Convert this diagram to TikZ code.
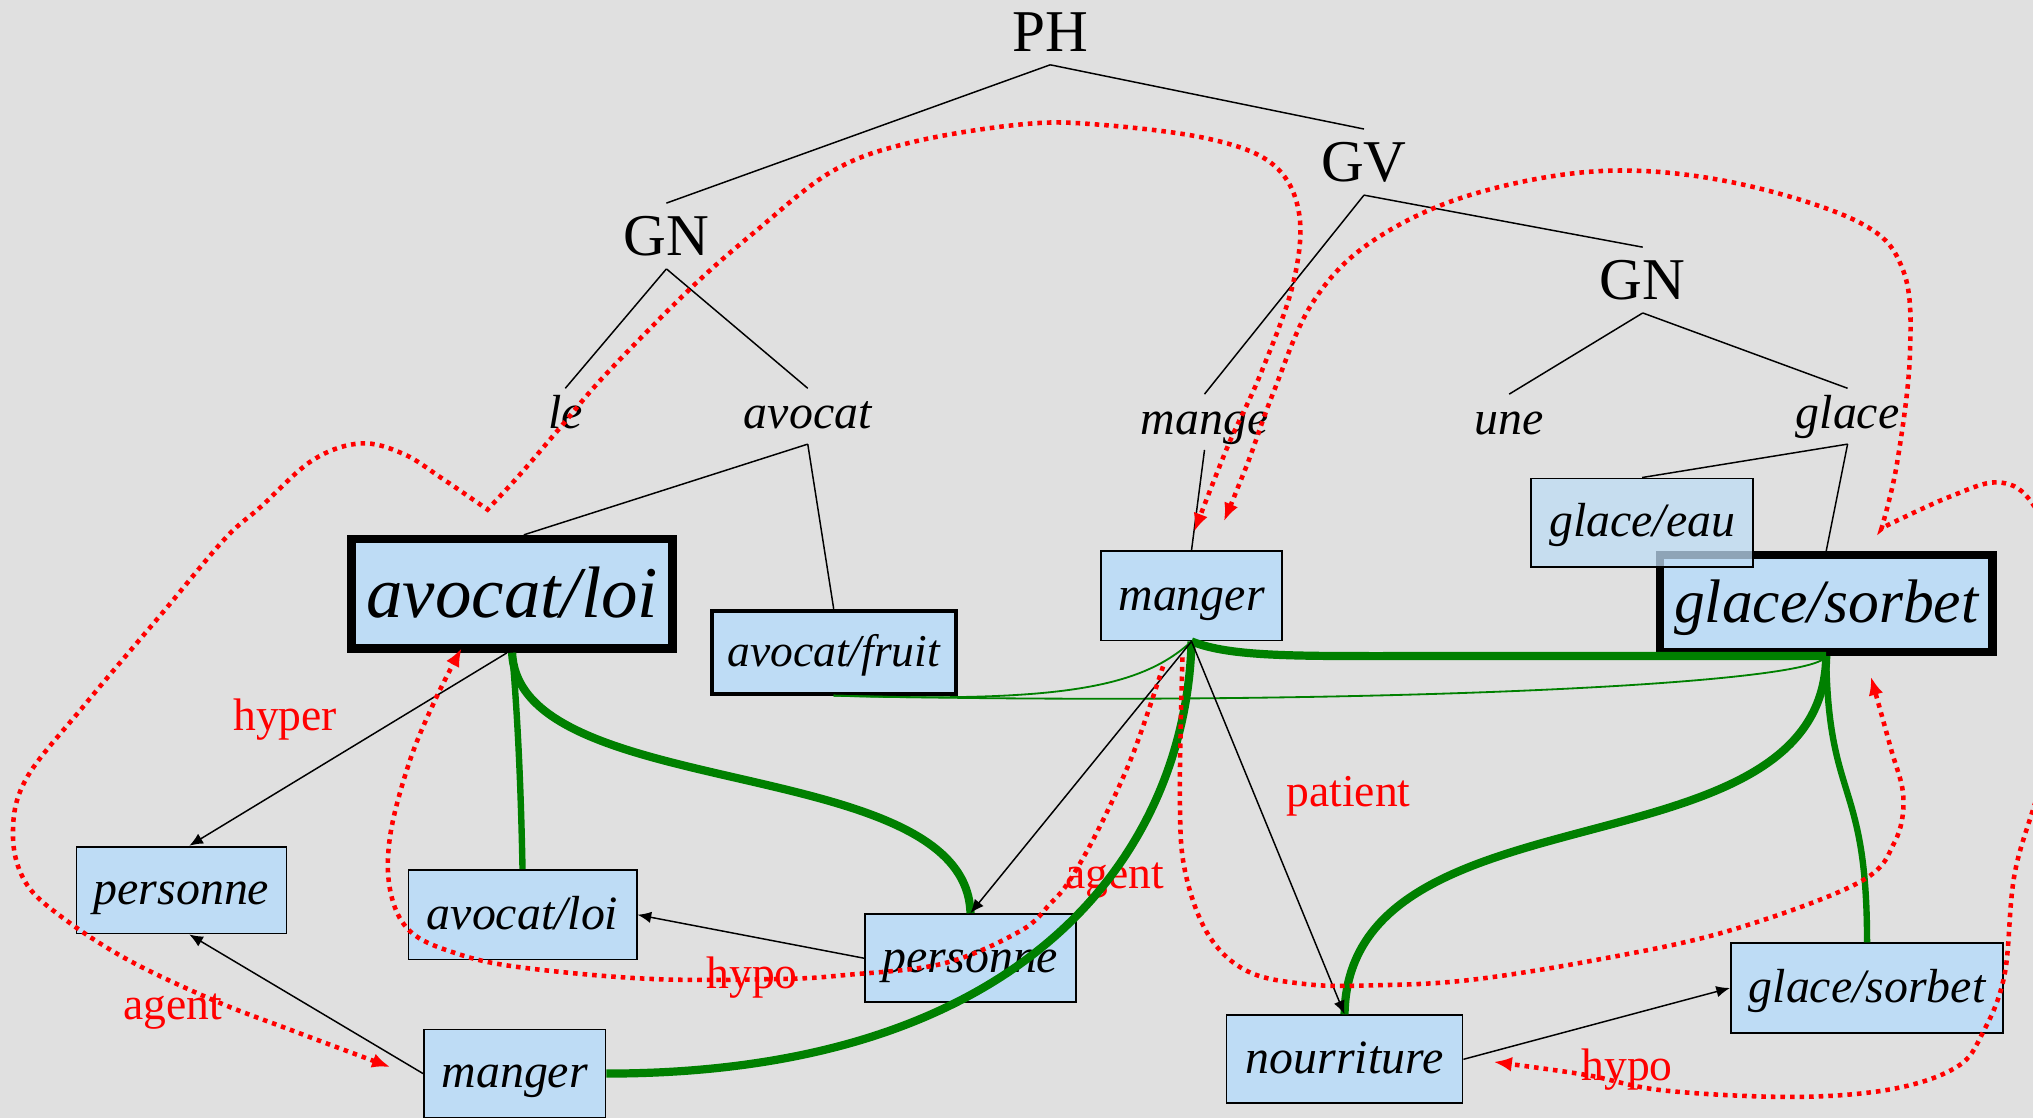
\documentclass[tikz,border=0pt]{standalone}
\usepackage{fontspec}
\setmainfont{Liberation Serif}
\usepackage{xcolor}
\usetikzlibrary{arrows.meta}
\definecolor{fondo}{RGB}{224,224,224}
\definecolor{azul}{RGB}{190,220,245}
\definecolor{verde}{RGB}{0,128,0}

\begin{document}
\begin{tikzpicture}[x=0.2mm, y=-0.2mm,
	cat/.style={font=\fontsize{26}{30}\selectfont, inner sep=5.5pt},
	word/.style={font=\itshape\fontsize{21}{25}\selectfont, text height=14.5pt, text depth=4pt, inner sep=2.8pt},
	sense/.style={rectangle, draw, fill=azul, line width=0.8pt, inner sep=0pt, text height=16.5pt, text depth=3.9pt, font=\itshape\fontsize{21}{25}\selectfont},
	head/.style={sense, line width=3.7pt},
	rel/.style={text=red, font=\fontsize{20}{24}\selectfont},
	tree/.style={line width=0.65pt},
	isa/.style={line width=0.65pt, -{Latex[length=6pt,width=5pt]}},
	link/.style={verde, line width=3.6pt},
	weak/.style={verde, line width=0.8pt},
	relation/.style={red, line width=2pt, dash pattern=on 2pt off 2.2pt, >={Latex[length=8pt,width=6.5pt]}}]

		\useasboundingbox (0,0) rectangle (1568,862);
		\clip (0,0) rectangle (1568,862);
		\fill[fondo] (0,0) rectangle (1568,862);

		% Arbol
		\node[cat] (ph) at (810,25) {PH};
		\node[cat] (gn1) at (514,182) {GN};
		\node[cat] (gv) at (1052,125) {GV};
		\node[cat] (gn2) at (1267,216) {GN};
		\node[word] (le) at (436,321) {le};
		\node[word] (avocat) at (623,321) {avocat};
		\node[word] (mange) at (929,325.5) {mange};
		\node[word] (une) at (1164,325.5) {une};
		\node[word] (glace) at (1425,321) {glace};

		% Sentidos
		\node[head, minimum width=49.5mm, minimum height=16.9mm, text height=22pt, text depth=1pt, font=\itshape\fontsize{32}{36}\selectfont] (bigavocat) at (395,458) {avocat/loi};
		\node[sense, line width=1.7pt, minimum width=37.6mm, minimum height=12.8mm, font=\itshape\fontsize{20}{24}\selectfont] (fruit) at (643,503) {avocat/fruit};
		\node[sense, minimum width=28mm, minimum height=13.8mm] (manger1) at (919,459.5) {manger};
		\node[head, minimum width=51.3mm, minimum height=14.9mm, text height=20pt, text depth=3.5pt, font=\itshape\fontsize{27}{32}\selectfont] (bigglace) at (1408.5,465.5) {glace/sorbet};
		\node[sense, fill opacity=0.75, text opacity=1, minimum width=34.2mm, minimum height=13.6mm] (glaceeau) at (1266.5,403) {glace/eau};
		\node[sense, minimum width=32.4mm, minimum height=13.4mm] (persA) at (140,686.5) {personne};
		\node[sense, minimum width=35.2mm, minimum height=13.8mm] (avoSmall) at (403,705.5) {avocat/loi};
		\node[sense, minimum width=32.6mm, minimum height=13.6mm] (persB) at (748.5,739) {personne};
		\node[sense, minimum width=28mm, minimum height=13.6mm] (mangerB) at (397,828) {manger};
		\node[sense, minimum width=36.4mm, minimum height=13.6mm] (nourriture) at (1037,817) {nourriture};
		\node[sense, minimum width=42mm, minimum height=13.8mm] (glaceS) at (1440,762) {glace/sorbet};

		% Etiquetas
		\node[rel] (hyperlab) at (220,555) {hyper};
		\node[rel] (agentA) at (133,780) {agent};
		\node[rel] (hypoA) at (580,754) {hypo};
		\node[rel] (agentB) at (860,679) {agent};
		\node[rel] (patientlab) at (1040,614) {patient};
		\node[rel] (hypoB) at (1255,825) {hypo};

		% Aristas del arbol
		\draw[tree] (ph.south) -- (gn1.north);
		\draw[tree] (ph.south) -- (gv.north);
		\draw[tree] (gn1.south) -- (le.north);
		\draw[tree] (gn1.south) -- (avocat.north);
		\draw[tree] (gv.south) -- (mange.north);
		\draw[tree] (gv.south) -- (gn2.north);
		\draw[tree] (gn2.south) -- (une.north);
		\draw[tree] (gn2.south) -- (glace.north);
		\draw[tree] (avocat.south) -- ([xshift=1.8mm]bigavocat.north);
		\draw[tree] (avocat.south) -- (fruit.north);
		\draw[tree] (mange.south) -- (manger1.north);
		\draw[tree] (glace.south) -- (glaceeau.north);
		\draw[tree] (glace.south) -- (bigglace.north);

		% Enlaces verdes
		\draw[weak] (fruit.south) .. controls (820,542) and (880,530) .. (manger1.south);
		\draw[weak] (fruit.south) .. controls (1000,545) and (1400,530) .. (bigglace.south);
		\draw[link, line width=2.8pt] (bigavocat.south) .. controls (400,560) and (402,620) .. (avoSmall.north);
		\draw[link] (bigavocat.south) .. controls (400,620) and (745,580) .. (persB.north);
		\draw[link] (mangerB.east) .. controls (800,828) and (915,650) .. (manger1.south);
		\draw[link] (manger1.south) .. controls (950,507) and (1000,506) .. (1100,506) -- (bigglace.south);
		\draw[link] (bigglace.south) .. controls (1406,680) and (1040,600) .. (nourriture.north);
		\draw[link, line width=2.8pt] (bigglace.south) .. controls (1410,620) and (1440,600) .. (glaceS.north);

		% Flechas
		\draw[isa] ([xshift=-0.8mm]bigavocat.south) -- ([xshift=1.2mm]persA.north);
		\draw[isa] (mangerB.west) -- ([xshift=1.2mm]persA.south);
		\draw[isa] (persB.west) -- (avoSmall.east);
		\draw[isa] (manger1.south) -- (persB.north);
		\draw[isa] (manger1.south) -- (nourriture.north);
		\draw[isa] (nourriture.east) -- (glaceS.west);

		% Relaciones
		\draw[relation, <->] plot[smooth, tension=0.6] coordinates {(301,823) (226,795) (166,772) (100,741) (50,709) (20,681) (10,644) (20,601) (65,544) (125,473) (173,416) (201,391) (241,355) (278,342) (311,350) (341,369) (376,393)}
			-- plot[smooth, tension=0.6] coordinates {(376,393) (401,366) (431,331) (467,289) (532,223) (582,179) (642,132) (702,110) (787,96) (846,96) (932,107) (982,127) (1002,165) (997,220) (972,289) (947,344) (921,410)};
		\draw[relation, <->] plot[smooth, tension=0.6] coordinates {(944,402) (962,358) (982,303) (1012,234) (1057,187) (1132,151) (1233,132) (1333,140) (1433,171) (1468,209) (1473,275) (1463,358) (1451,408)}
			-- plot[smooth, tension=0.6] coordinates {(1451,408) (1460,403) (1504,383) (1540,372) (1565,385) (1585,430) (1590,520) (1575,600) (1554,673) (1546,752) (1529,797) (1509,823) (1459,840) (1383,846) (1283,841) (1223,829) (1152,819)};
		\draw[relation, ->] plot[smooth, tension=0.6] coordinates {(897,514) (874,581) (848,638) (825,679) (810,697) (787,718) (728,743) (652,752) (602,755) (502,755) (401,746) (351,735) (316,718) (301,687) (301,644) (316,587) (336,539) (356,500)};
		\draw[relation, ->] plot[smooth, tension=0.6] coordinates {(912,507) (910,615) (914,672) (932,721) (962,749) (1007,759) (1057,760) (1132,756) (1233,740) (1333,718) (1433,681) (1461,650) (1468,615) (1458,576) (1443,522)};

\end{tikzpicture}
\end{document}
